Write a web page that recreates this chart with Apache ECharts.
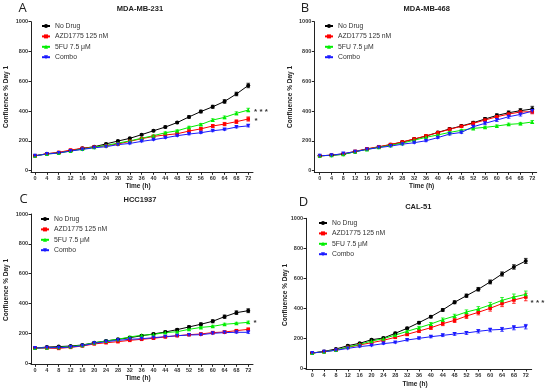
<!DOCTYPE html>
<html><head><meta charset="utf-8">
<script src="https://cdn.jsdelivr.net/npm/echarts@6/dist/echarts.min.js"></script>
<style>html,body{margin:0;padding:0;background:#fff}#c{width:550px;height:390px}</style>
</head><body><div id="c"></div>
<script>
const hours = [0,4,8,12,16,20,24,28,32,36,40,44,48,52,56,60,64,68,72];
const xTicks = [0,4,8,12,16,20,24,28,32,36,40,44,48,52,56,60,64,68,72];
const yTicks = [0,200,400,600,800,1000];
const seriesNames = ['No Drug','AZD1775 125 nM','5FU 7.5 μM','Combo'];
const panelTitles = ['MDA-MB-231','MDA-MB-468','HCC1937','CAL-51'];
const panelLetters = ['A','B','C','D'];

// Panel A: MDA-MB-231
const A_noDrug = [100,114,121,134,150,161,180,199,217,242,268,293,323,361,397,429,465,515,572];
const A_azd    = [100,114,123,139,150,159,168,179,197,215,230,240,248,266,281,300,313,329,347];
const A_5fu    = [100,112,118,132,145,158,170,185,200,218,235,255,268,291,310,340,358,385,407];
const A_combo  = [100,112,119,132,143,154,161,175,183,197,208,221,235,246,255,268,277,293,301];
const A_noDrug_err = [2,3,3,4,4,4,5,5,5,6,6,7,7,8,9,10,12,12,15];
const A_azd_err    = [2,3,3,4,4,4,4,5,5,5,6,6,7,8,9,10,11,12,14];
const A_5fu_err    = [2,2,3,3,3,4,4,4,5,5,5,6,6,7,7,8,9,10,12];
const A_combo_err  = [2,2,2,3,3,3,3,4,4,4,4,5,5,5,5,6,6,6,7];

// Panel B: MDA-MB-468
const B_noDrug = [100,104,110,128,145,159,175,192,212,232,257,280,300,322,347,371,389,403,414];
const B_azd    = [100,104,113,130,147,161,176,193,213,234,255,278,298,318,340,362,380,394,396];
const B_5fu    = [100,103,110,127,143,157,170,185,205,224,240,257,271,284,291,300,311,316,327];
const B_combo  = [100,104,115,128,143,155,165,178,188,201,222,246,257,295,318,340,362,378,400];
const B_noDrug_err = [2,3,3,3,4,4,5,5,6,6,7,8,8,9,10,11,12,14,18];
const B_azd_err    = [2,3,3,3,4,4,5,5,6,6,7,7,8,9,10,10,11,12,14];
const B_5fu_err    = [2,2,3,3,3,4,4,4,5,5,5,6,6,6,7,7,8,8,10];
const B_combo_err  = [2,3,3,3,4,4,5,5,5,6,6,7,7,8,9,10,10,11,12];

// Panel C: HCC1937
const C_noDrug = [100,107,110,114,121,136,148,159,170,183,195,208,224,242,260,280,311,338,351];
const C_azd    = [100,100,98,105,114,128,136,143,152,159,166,175,183,190,195,204,208,217,226];
const C_5fu    = [100,103,105,110,119,136,148,159,175,186,192,204,210,226,239,246,260,266,273];
const C_combo  = [100,103,103,107,116,132,143,152,159,163,170,177,183,188,190,199,204,206,206];
const C_noDrug_err = [2,3,3,3,4,4,5,5,5,6,6,7,7,8,9,10,11,12,13];
const C_azd_err    = [2,2,3,3,3,4,4,4,4,5,5,5,5,6,6,6,7,7,8];
const C_5fu_err    = [2,2,3,3,3,4,4,4,5,5,5,5,6,6,6,7,7,7,8];
const C_combo_err  = [2,2,2,3,3,3,3,4,4,4,4,5,5,5,5,6,6,6,7];

// Panel D: CAL-51
const D_noDrug = [100,111,127,149,165,189,200,232,265,303,343,388,439,483,526,575,628,675,715];
const D_azd    = [100,109,120,138,154,169,185,205,225,247,269,296,318,347,372,399,430,454,474];
const D_5fu    = [100,109,120,140,158,180,196,220,245,269,294,323,347,374,394,421,452,474,492];
const D_combo  = [100,109,118,131,143,151,163,171,187,198,209,218,227,234,245,254,258,269,276];
const D_noDrug_err = [2,3,4,5,5,6,6,7,7,8,8,9,10,11,12,13,14,15,17];
const D_azd_err    = [2,3,3,4,5,6,7,8,9,10,11,13,14,16,17,19,20,22,25];
const D_5fu_err    = [2,3,3,4,5,6,6,7,8,9,10,11,12,14,16,17,19,20,22];
const D_combo_err  = [2,3,3,3,4,4,5,5,6,6,7,8,9,10,11,12,13,14,15];

const panelData = [
  [A_noDrug, A_azd, A_5fu, A_combo],
  [B_noDrug, B_azd, B_5fu, B_combo],
  [C_noDrug, C_azd, C_5fu, C_combo],
  [D_noDrug, D_azd, D_5fu, D_combo]
];
const panelErr = [
  [A_noDrug_err, A_azd_err, A_5fu_err, A_combo_err],
  [B_noDrug_err, B_azd_err, B_5fu_err, B_combo_err],
  [C_noDrug_err, C_azd_err, C_5fu_err, C_combo_err],
  [D_noDrug_err, D_azd_err, D_5fu_err, D_combo_err]
];

const FONT = '"Liberation Sans", Arial, sans-serif';
const colors = ['#000000','#ff0000','#00ee00','#1a1aff'];
const symbols = ['circle','rect','triangle','triangle'];
const symbolRot = [0,0,0,180];

const layout = [
  {grid:{left:31, top:21.7, width:222, height:150.6}, xmin:-1.35, xmax:73.6, ymin:-10.7,
   legend:{left:41, top:22}, title:[140,9], letter:[22.5,8], yname:[6,97], xname:[138,186]},
  {grid:{left:314.3, top:21.7, width:222.4, height:150.6}, xmin:-1.83, xmax:73.5, ymin:-10.7,
   legend:{left:324, top:22}, title:[426.7,9], letter:[305,8.5], yname:[290,97], xname:[421.7,186]},
  {grid:{left:31, top:214, width:222, height:150.3}, xmin:-1.35, xmax:73.6, ymin:-8.7,
   legend:{left:40, top:215}, title:[140,200], letter:[23.5,199.5], yname:[6,290], xname:[138,378.3]},
  {grid:{left:306, top:218.3, width:225.7, height:150.7}, xmin:-2.1, xmax:74, ymin:-6.7,
   legend:{left:318, top:219}, title:[418.3,207], letter:[303.5,202.5], yname:[285,295], xname:[415,384.3]}
];

const grids = [], xAxes = [], yAxes = [], series = [], legends = [], graphics = [];
layout.forEach((L, p) => {
  grids.push(L.grid);
  xAxes.push({
    type:'value', gridIndex:p, min:L.xmin, max:L.xmax,
    axisLine:{show:true, onZero:false, lineStyle:{color:'#222', width:1}},
    axisTick:{show:true, length:2.5, customValues:xTicks, lineStyle:{color:'#222'}},
    axisLabel:{customValues:xTicks, formatter:v=>String(v), fontSize:5.5, fontWeight:'bold', color:'#333', margin:3, fontFamily:FONT},
    splitLine:{show:false}
  });
  yAxes.push({
    type:'value', gridIndex:p, min:L.ymin, max:1000,
    axisLine:{show:true, onZero:false, lineStyle:{color:'#222', width:1}},
    axisTick:{show:true, length:2.5, customValues:yTicks, lineStyle:{color:'#222'}},
    axisLabel:{customValues:yTicks, formatter:v=>String(v), fontSize:5.5, fontWeight:'bold', color:'#333', margin:3, fontFamily:FONT},
    splitLine:{show:false}
  });
  panelData[p].forEach((vals, s) => {
    const err = panelErr[p][s];
    series.push({
      type:'custom', xAxisIndex:p, yAxisIndex:p, silent:true, z:1,
      data: hours.map((h,i)=>[h, vals[i]-err[i], vals[i]+err[i]]),
      renderItem:(params, api)=>{
        const lo = api.coord([api.value(0), api.value(1)]);
        const hi = api.coord([api.value(0), api.value(2)]);
        const cw = 1.8;
        return {type:'group', children:[
          {type:'line', shape:{x1:lo[0],y1:lo[1],x2:hi[0],y2:hi[1]}, style:{stroke:colors[s], lineWidth:0.8}},
          {type:'line', shape:{x1:lo[0]-cw,y1:lo[1],x2:lo[0]+cw,y2:lo[1]}, style:{stroke:colors[s], lineWidth:0.8}},
          {type:'line', shape:{x1:hi[0]-cw,y1:hi[1],x2:hi[0]+cw,y2:hi[1]}, style:{stroke:colors[s], lineWidth:0.8}}
        ]};
      }
    });
    series.push({
      name:seriesNames[s], type:'line', xAxisIndex:p, yAxisIndex:p, z:2,
      data: hours.map((h,i)=>[h, vals[i]]),
      symbol:symbols[s], symbolRotate:symbolRot[s], symbolSize: s===1 ? 3.5 : 4,
      showSymbol:true, animation:false,
      lineStyle:{color:colors[s], width:1},
      itemStyle:{color:colors[s]}
    });
  });
  legends.push({
    orient:'vertical', left:L.legend.left, top:L.legend.top, data:seriesNames, padding:0,
    itemWidth:8, itemHeight:5, itemGap:2.4, selectedMode:false,
    textStyle:{fontSize:6.8, color:'#333', fontFamily:FONT, lineHeight:8}
  });
  graphics.push({type:'text', x:L.letter[0], y:L.letter[1], style:{text:panelLetters[p], font:'13px "Open Sans", "Liberation Sans", sans-serif', fill:'#222', align:'center', verticalAlign:'middle'}});
  graphics.push({type:'text', x:L.title[0], y:L.title[1], style:{text:panelTitles[p], font:'bold 7.5px '+FONT, fill:'#222', align:'center', verticalAlign:'middle'}});
  graphics.push({type:'text', x:L.yname[0], y:L.yname[1], rotation:Math.PI/2, style:{text:'Confluence % Day 1', font:'bold 6.5px '+FONT, fill:'#222', align:'center', verticalAlign:'middle'}});
  graphics.push({type:'text', x:L.xname[0], y:L.xname[1], style:{text:'Time (h)', font:'bold 6.5px '+FONT, fill:'#222', align:'center', verticalAlign:'middle'}});
});
graphics.push({type:'text', x:261, y:111.5, style:{text:'* * *', font:'bold 8px '+FONT, fill:'#333', align:'center', verticalAlign:'middle'}});
graphics.push({type:'text', x:256, y:121, style:{text:'*', font:'bold 8px '+FONT, fill:'#333', align:'center', verticalAlign:'middle'}});
graphics.push({type:'text', x:255, y:322.5, style:{text:'*', font:'bold 8px '+FONT, fill:'#333', align:'center', verticalAlign:'middle'}});
graphics.push({type:'text', x:537.5, y:302.5, style:{text:'* * *', font:'bold 8px '+FONT, fill:'#333', align:'center', verticalAlign:'middle'}});

const chart = echarts.init(document.getElementById('c'), null, {renderer:'canvas'});
chart.setOption({
  animation:false, backgroundColor:'#fff',
  grid:grids, xAxis:xAxes, yAxis:yAxes, series:series, legend:legends, graphic:graphics
});
</script></body></html>
